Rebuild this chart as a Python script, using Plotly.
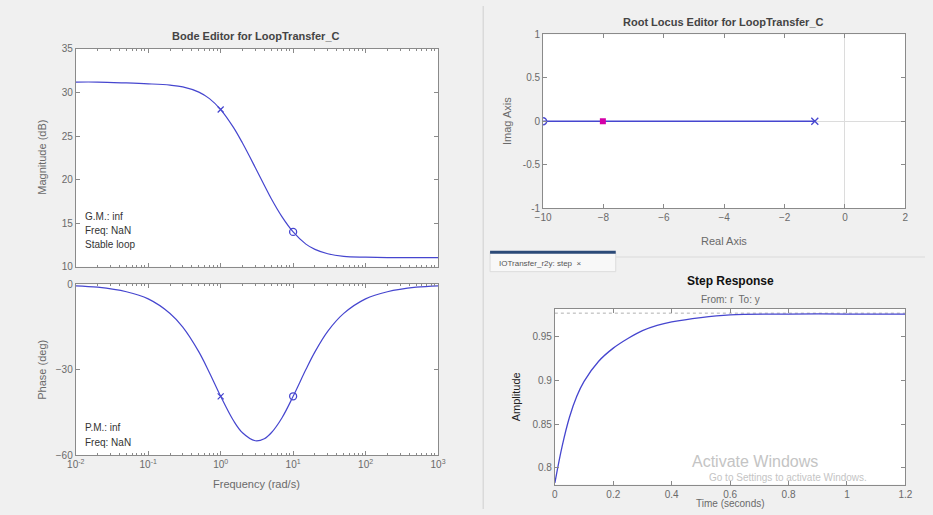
import plotly.graph_objects as go

# ---------------- data ----------------
freq = [0.01, 0.02, 0.05, 0.1, 0.2, 0.3, 0.5, 0.7, 1, 1.5, 2, 3, 4, 5, 7, 10,
        15, 20, 30, 50, 100, 200, 500, 1000]
mag_db = [31.2, 31.2, 31.1, 31.0, 30.85, 30.65, 30.05, 29.3, 28.05, 26.0, 24.2,
          21.4, 19.35, 17.8, 15.75, 14.0, 12.6, 12.0, 11.5, 11.2, 11.1, 11.05,
          11.05, 11.05]
phase_deg = [-0.5, -1.0, -2.6, -5.1, -10.2, -15.0, -23.7, -31.0, -39.3, -47.8,
             -52.1, -54.9, -54.2, -52.1, -46.9, -39.3, -29.9, -23.7, -16.5,
             -10.2, -5.1, -2.6, -1.0, -0.5]
pole_freq = [1]
pole_mag = [28.05]
pole_phase = [-39.3]
zero_freq = [10]
zero_mag = [14.0]
zero_phase = [-39.3]

locus_re = [-10, -1]
locus_im = [0, 0]
ol_zero_re = [-10]
ol_pole_re = [-1]
cl_pole_re = [-8.02]

step_t = [0, 0.025, 0.05, 0.075, 0.1, 0.15, 0.2, 0.25, 0.3, 0.35, 0.4, 0.5,
          0.6, 0.8, 1.0, 1.2]
step_y = [0.783, 0.825, 0.858, 0.882, 0.899, 0.922, 0.937, 0.948, 0.957,
          0.963, 0.967, 0.972, 0.975, 0.976, 0.976, 0.976]
step_final = 0.977

freq_ticks = [0.01, 0.1, 1, 10, 100, 1000]
freq_ticktext = ["10<sup>-2</sup>", "10<sup>-1</sup>", "10<sup>0</sup>",
                 "10<sup>1</sup>", "10<sup>2</sup>", "10<sup>3</sup>"]
mag_ticks = [10, 15, 20, 25, 30, 35]
phase_ticks = [-60, -30, 0]
re_ticks = [-10, -8, -6, -4, -2, 0, 2]
im_ticks = [-1, -0.5, 0, 0.5, 1]
im_ticktext = ["-1", "-0.5", "0", "0.5", "1"]
t_ticks = [0, 0.2, 0.4, 0.6, 0.8, 1.0, 1.2]
t_ticktext = ["0", "0.2", "0.4", "0.6", "0.8", "1", "1.2"]
amp_ticks = [0.8, 0.85, 0.9, 0.95]
amp_ticktext = ["0.8", "0.85", "0.9", "0.95"]

# ---------------- styling ----------------
W, H = 933, 515
BLUE = "#4646cf"
AXC = "#8a8a8a"
TICKC = "#6a6a6a"
FONT = "Liberation Sans, Arial, sans-serif"


def px(x):
    return x / W


def py(y):
    return 1 - y / H


minor_log = [m * 10 ** k for k in range(-2, 3) for m in range(2, 10)]

fig = go.Figure()

# Bode magnitude
fig.add_trace(go.Scatter(x=freq, y=mag_db, mode="lines", line=dict(color=BLUE, width=1.2, shape="spline"),
                         xaxis="x", yaxis="y", hoverinfo="skip"))
fig.add_trace(go.Scatter(x=pole_freq, y=pole_mag, mode="markers",
                         marker=dict(symbol="x-thin", size=6, line=dict(color=BLUE, width=1.2)),
                         xaxis="x", yaxis="y"))
fig.add_trace(go.Scatter(x=zero_freq, y=zero_mag, mode="markers",
                         marker=dict(symbol="circle-open", size=7, color=BLUE, line=dict(color=BLUE, width=1.3)),
                         xaxis="x", yaxis="y"))
# Bode phase
fig.add_trace(go.Scatter(x=freq, y=phase_deg, mode="lines", line=dict(color=BLUE, width=1.2, shape="spline"),
                         xaxis="x2", yaxis="y2"))
fig.add_trace(go.Scatter(x=pole_freq, y=pole_phase, mode="markers",
                         marker=dict(symbol="x-thin", size=6, line=dict(color=BLUE, width=1.2)),
                         xaxis="x2", yaxis="y2"))
fig.add_trace(go.Scatter(x=zero_freq, y=zero_phase, mode="markers",
                         marker=dict(symbol="circle-open", size=7, color=BLUE, line=dict(color=BLUE, width=1.3)),
                         xaxis="x2", yaxis="y2"))
# Root locus
fig.add_trace(go.Scatter(x=locus_re, y=locus_im, mode="lines", line=dict(color=BLUE, width=1.3),
                         xaxis="x3", yaxis="y3"))
fig.add_trace(go.Scatter(x=ol_zero_re, y=[0], mode="markers",
                         marker=dict(symbol="circle-open", size=7, color=BLUE, line=dict(color=BLUE, width=1.5)),
                         xaxis="x3", yaxis="y3"))
fig.add_trace(go.Scatter(x=ol_pole_re, y=[0], mode="markers",
                         marker=dict(symbol="x-thin", size=7, line=dict(color=BLUE, width=1.3)),
                         xaxis="x3", yaxis="y3"))
fig.add_trace(go.Scatter(x=cl_pole_re, y=[0], mode="markers",
                         marker=dict(symbol="square", size=6, color="#d400a8"),
                         xaxis="x3", yaxis="y3"))
# Step response
fig.add_trace(go.Scatter(x=[0, 1.2], y=[step_final, step_final], mode="lines",
                         line=dict(color="#b0b0b0", width=1, dash="dot"),
                         xaxis="x4", yaxis="y4"))
fig.add_trace(go.Scatter(x=step_t, y=step_y, mode="lines", line=dict(color=BLUE, width=1.3, shape="spline"),
                         xaxis="x4", yaxis="y4"))


def ax(**kw):
    base = dict(showline=True, linecolor=AXC, linewidth=1, mirror="allticks",
                ticks="inside", ticklen=4, tickcolor=AXC, showgrid=False,
                zeroline=False, tickfont=dict(family=FONT, size=10, color=TICKC),
                fixedrange=True)
    base.update(kw)
    return base


fig.update_layout(
    width=W, height=H, margin=dict(l=0, r=0, t=0, b=0),
    paper_bgcolor="#f0f0f0", plot_bgcolor="white", showlegend=False,
    font=dict(family=FONT, size=10, color=TICKC),
    xaxis=ax(type="log", range=[-2, 3], domain=[px(68), px(437)], anchor="y",
             tickvals=freq_ticks, showticklabels=False,
             minor=dict(ticks="inside", ticklen=2, tickcolor=AXC, tickvals=minor_log)),
    yaxis=ax(range=[10, 35], domain=[py(267), py(44)], anchor="x", tickvals=mag_ticks),
    xaxis2=ax(type="log", range=[-2, 3], domain=[px(68), px(437)], anchor="y2",
              tickvals=freq_ticks, ticktext=freq_ticktext,
              minor=dict(ticks="inside", ticklen=2, tickcolor=AXC, tickvals=minor_log)),
    yaxis2=ax(range=[-60, 0], domain=[py(460), py(285)], anchor="x2", tickvals=phase_ticks),
    xaxis3=ax(range=[-10, 2], domain=[px(544), px(913)], anchor="y3", tickvals=re_ticks,
              zeroline=True, zerolinecolor="#dcdcdc", zerolinewidth=1),
    yaxis3=ax(range=[-1, 1], domain=[py(207), py(29)], anchor="x3", tickvals=im_ticks,
              ticktext=im_ticktext, zeroline=True, zerolinecolor="#dcdcdc", zerolinewidth=1),
    xaxis4=ax(range=[0, 1.2], domain=[px(556), px(913)], anchor="y4", tickvals=t_ticks,
              ticktext=t_ticktext),
    yaxis4=ax(range=[0.781, 0.982], domain=[py(490), py(310)], anchor="x4", tickvals=amp_ticks,
              ticktext=amp_ticktext),
)

shapes = [
    # panel divider
    dict(type="line", xref="paper", yref="paper", x0=px(483), x1=px(483), y0=0, y1=1,
         line=dict(color="#cfcfcf", width=1)),
    # tab strip line
    dict(type="line", xref="paper", yref="paper", x0=px(618), x1=1, y0=py(257), y1=py(257),
         line=dict(color="#dadada", width=1)),
    # tab body
    dict(type="rect", xref="paper", yref="paper", x0=px(490), x1=px(618), y0=py(272), y1=py(252),
         fillcolor="#f8f8f8", line=dict(color="#dcdcdc", width=1)),
    # tab selection bar
    dict(type="line", xref="paper", yref="paper", x0=px(490), x1=px(618), y0=py(252), y1=py(252),
         line=dict(color="#2c4a78", width=3)),
]
fig.update_layout(shapes=shapes)

DARK = "#333333"
ann = []


def txt(x, y, s, size=10, color=TICKC, angle=0, xanchor="center", bold=False):
    if bold:
        s = "<b>" + s + "</b>"
    ann.append(dict(x=px(x), y=py(y), xref="paper", yref="paper", text=s, showarrow=False,
                    xanchor=xanchor, yanchor="middle", textangle=angle,
                    font=dict(family=FONT, size=size, color=color)))


txt(252, 31, "Bode Editor for LoopTransfer_C", size=11, color="#444444", bold=True)
txt(34, 155, "Magnitude (dB)", size=11, color=TICKC, angle=-90)
txt(34, 372, "Phase (deg)", size=11, color=TICKC, angle=-90)
txt(252, 489, "Frequency (rad/s)", size=11, color=TICKC)
txt(75, 216, "G.M.: inf", size=10, color=DARK, xanchor="left")
txt(75, 230, "Freq: NaN", size=10, color=DARK, xanchor="left")
txt(75, 244, "Stable loop", size=10, color=DARK, xanchor="left")
txt(75, 432, "P.M.: inf", size=10, color=DARK, xanchor="left")
txt(75, 447, "Freq: NaN", size=10, color=DARK, xanchor="left")

txt(728, 16, "Root Locus Editor for LoopTransfer_C", size=11, color="#444444", bold=True)
txt(507, 118, "Imag Axis", size=11, color=TICKC, angle=-90)
txt(728, 241, "Real Axis", size=11, color=TICKC)

txt(497, 264, "IOTransfer_r2y: step  \u00d7", size=8, color="#555555", xanchor="left")
txt(735, 282, "Step Response", size=12, color="#111111", bold=True)
txt(735, 301, "From: r  To: y", size=10, color=TICKC)
txt(516, 400, "Amplitude", size=11, color="#222222", angle=-90)
txt(735, 509, "Time (seconds)", size=10, color=TICKC)

txt(760, 466, "Activate Windows", size=16, color="#c4c4c4")
txt(793, 483, "Go to Settings to activate Windows.", size=10, color="#c4c4c4")

fig.update_layout(annotations=ann)

fig.write_html("out.html", config={"displayModeBar": False},
               post_script="document.body.style.margin='0';")
